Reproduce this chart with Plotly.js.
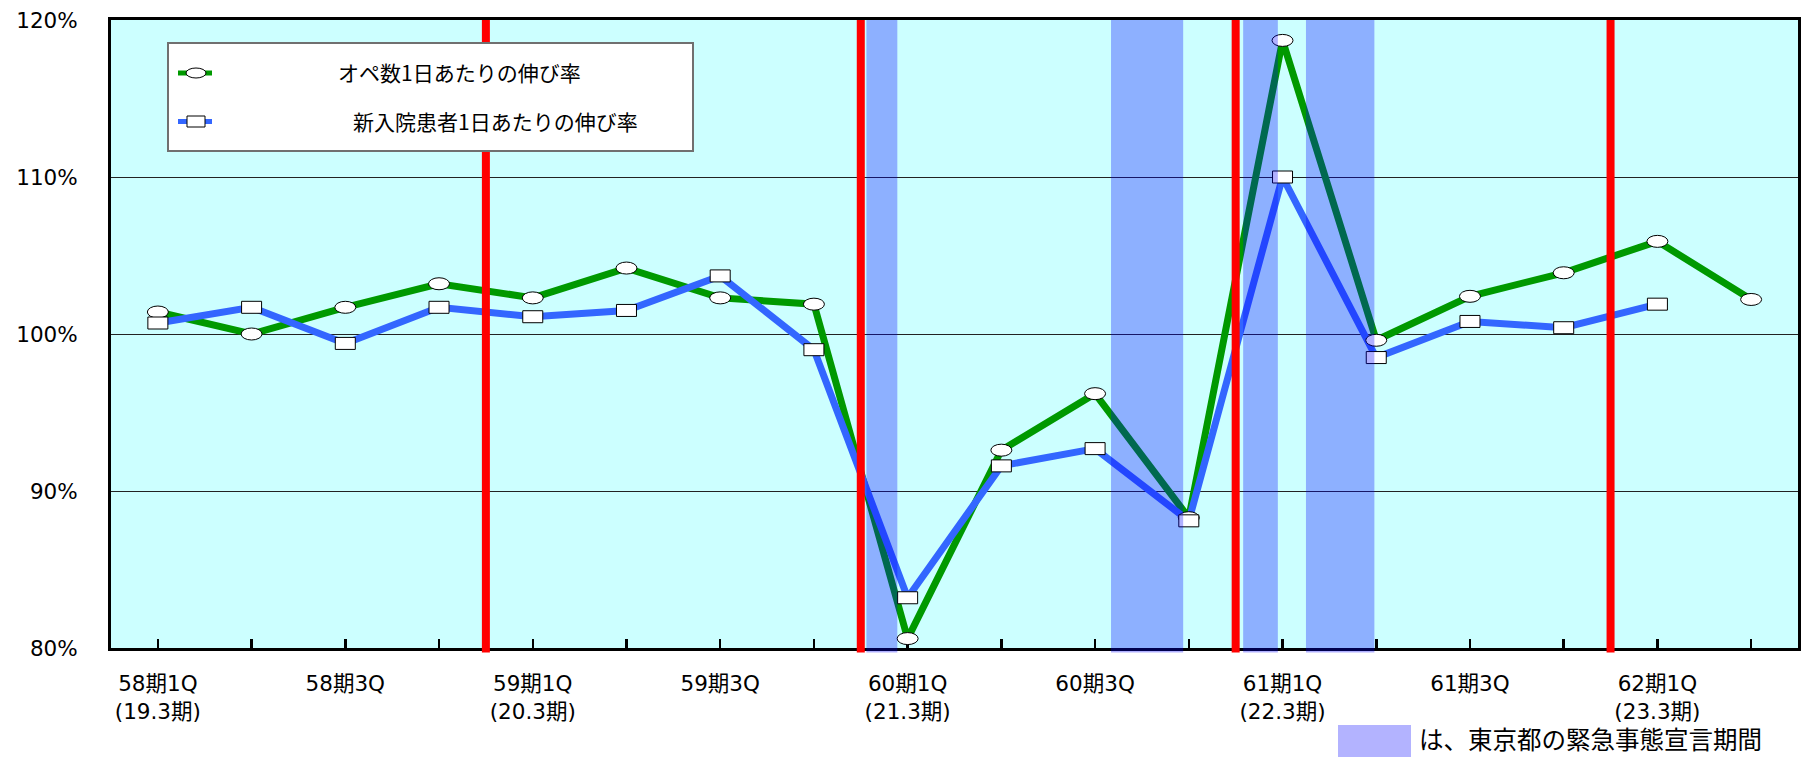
<!DOCTYPE html>
<html>
<head>
<meta charset="utf-8">
<script src="https://cdn.plot.ly/plotly-3.0.1.min.js"></script>
<style>html,body{margin:0;padding:0;background:#fff;}#chart{width:1803px;height:757px;}</style>
</head>
<body>
<div id="chart"></div>
<script>
// ---- data ----
const categories = ['58期1Q','58期2Q','58期3Q','58期4Q','59期1Q','59期2Q','59期3Q','59期4Q',
  '60期1Q','60期2Q','60期3Q','60期4Q','61期1Q','61期2Q','61期3Q','61期4Q','62期1Q','62期2Q'];
const tickLabels = ['58期1Q<br>(19.3期)','','58期3Q','','59期1Q<br>(20.3期)','','59期3Q','',
  '60期1Q<br>(21.3期)','','60期3Q','','61期1Q<br>(22.3期)','','61期3Q','','62期1Q<br>(23.3期)',''];
const opeRate = [101.4,100.0,101.7,103.2,102.3,104.2,102.3,101.9,80.6,92.6,96.2,88.3,118.7,99.6,102.4,103.9,105.9,102.2];
const admRate = [100.7,101.7,99.4,101.7,101.1,101.5,103.7,99.0,83.2,91.6,92.7,88.1,110.0,98.5,100.8,100.4,101.9,null];
const fyBoundaries = [3.5, 7.5, 11.5, 15.5];            // 決算期の区切り (category units)
const emergencyPeriods = [[7.56,7.89],[10.17,10.94],[11.58,11.95],[12.25,12.98]]; // 緊急事態宣言期間
const seriesNames = ['オペ数1日あたりの伸び率','新入院患者1日あたりの伸び率'];
const noteText = 'は、東京都の緊急事態宣言期間';

// ---- styling ----
const W = 1803, H = 757;
const M = {l:111, r:5, t:20, b:109};
const GREEN = '#009900', BLUE = '#3366ff', BAND = 'rgba(0,0,255,0.31)';
const LATIN = 'DejaVu Sans, Noto Sans CJK JP, sans-serif';
const CJK = 'Noto Sans CJK JP, sans-serif';
const pw = W - M.l - M.r, ph = H - M.t - M.b;
const px2x = p => (p - M.l) / pw;
const px2y = p => (H - M.b - p) / ph;

const xs = categories.map((c, i) => i);

const traces = [
  {x: xs, y: opeRate, type:'scatter', mode:'lines', name: seriesNames[0], text: categories,
   line:{color:GREEN, width:7}, showlegend:false, hoverinfo:'text+y'},
  {x: xs, y: admRate, type:'scatter', mode:'lines', name: seriesNames[1], text: categories,
   line:{color:BLUE, width:7}, showlegend:false, hoverinfo:'text+y', connectgaps:false}
];

const shapes = [];
// markers (ellipses for オペ数, rectangles for 新入院) anchored on the data scale
opeRate.forEach((v, i) => {
  if (v == null) return;
  shapes.push({type:'circle', xref:'x', yref:'y', xsizemode:'pixel', ysizemode:'pixel',
    xanchor:i, yanchor:v, x0:-10.5, x1:10.5, y0:-6, y1:6,
    fillcolor:'#ffffff', line:{color:'#000', width:1}, layer:'above'});
});
admRate.forEach((v, i) => {
  if (v == null) return;
  shapes.push({type:'rect', xref:'x', yref:'y', xsizemode:'pixel', ysizemode:'pixel',
    xanchor:i, yanchor:v, x0:-10, x1:10, y0:-6, y1:6,
    fillcolor:'#ffffff', line:{color:'#000', width:1}, layer:'above'});
});
// emergency bands
emergencyPeriods.forEach(p => {
  shapes.push({type:'rect', xref:'x', yref:'paper', x0:p[0], x1:p[1], y0:-0.007, y1:1,
    fillcolor:BAND, line:{width:0}, layer:'above'});
});
// fiscal-year red lines
fyBoundaries.forEach(b => {
  shapes.push({type:'line', xref:'x', yref:'paper', x0:b, x1:b, y0:-0.007, y1:1,
    line:{color:'#ff0000', width:8}, layer:'above'});
});
// legend box
shapes.push({type:'rect', xref:'paper', yref:'paper', x0:px2x(168), x1:px2x(693), y0:px2y(151), y1:px2y(43),
  fillcolor:'#ffffff', line:{color:'#707070', width:2}, layer:'above'});
// legend symbols
shapes.push({type:'line', xref:'paper', yref:'paper', x0:px2x(178), x1:px2x(212), y0:px2y(73), y1:px2y(73),
  line:{color:GREEN, width:5}, layer:'above'});
shapes.push({type:'circle', xref:'paper', yref:'paper', x0:px2x(186), x1:px2x(206), y0:px2y(78), y1:px2y(68),
  fillcolor:'#fff', line:{color:'#000', width:1}, layer:'above'});
shapes.push({type:'line', xref:'paper', yref:'paper', x0:px2x(178), x1:px2x(212), y0:px2y(121.5), y1:px2y(121.5),
  line:{color:BLUE, width:5}, layer:'above'});
shapes.push({type:'rect', xref:'paper', yref:'paper', x0:px2x(187), x1:px2x(205), y0:px2y(127), y1:px2y(116),
  fillcolor:'#fff', line:{color:'#000', width:1}, layer:'above'});
// note swatch
shapes.push({type:'rect', xref:'paper', yref:'paper', x0:px2x(1338), x1:px2x(1411), y0:px2y(757), y1:px2y(725),
  fillcolor:'#b3b3ff', line:{width:0}, layer:'above'});

const annotations = [
  {xref:'paper', yref:'paper', x:px2x(336), y:px2y(72), xanchor:'left', yanchor:'middle', showarrow:false,
   text: seriesNames[0], font:{family:CJK, size:21, color:'#000'}},
  {xref:'paper', yref:'paper', x:px2x(351), y:px2y(121), xanchor:'left', yanchor:'middle', showarrow:false,
   text: seriesNames[1], font:{family:CJK, size:21, color:'#000'}},
  {xref:'paper', yref:'paper', x:px2x(1418), y:px2y(738), xanchor:'left', yanchor:'middle', showarrow:false,
   borderpad:0, text: noteText, font:{family:CJK, size:24.5, color:'#000'}}
];

const layout = {
  width: W, height: H, margin: M,
  paper_bgcolor:'#ffffff', plot_bgcolor:'#ccffff',
  showlegend:false,
  xaxis:{range:[-0.5, categories.length - 0.5], tickmode:'array', tickvals: xs, ticktext: tickLabels,
    ticks:'inside', ticklen:9, tickwidth:2.5, tickcolor:'#000',
    showline:true, linecolor:'#000', linewidth:3, mirror:true, showgrid:false, zeroline:false,
    tickfont:{family:LATIN, size:21.5, color:'#000'}, ticklabelstandoff:14, fixedrange:true},
  yaxis:{range:[80,120], tickmode:'array', tickvals:[80,90,100,110,120], ticktext:['80%','90%','100%','110%','120%'],
    showline:true, linecolor:'#000', linewidth:3, mirror:true, showgrid:true, gridcolor:'#222', gridwidth:1,
    zeroline:false, ticks:'', tickfont:{family:LATIN, size:21.5, color:'#000'}, ticklabelstandoff:26, fixedrange:true},
  shapes: shapes,
  annotations: annotations
};

Plotly.newPlot('chart', traces, layout, {displayModeBar:false, staticPlot:true});
</script>
</body>
</html>
